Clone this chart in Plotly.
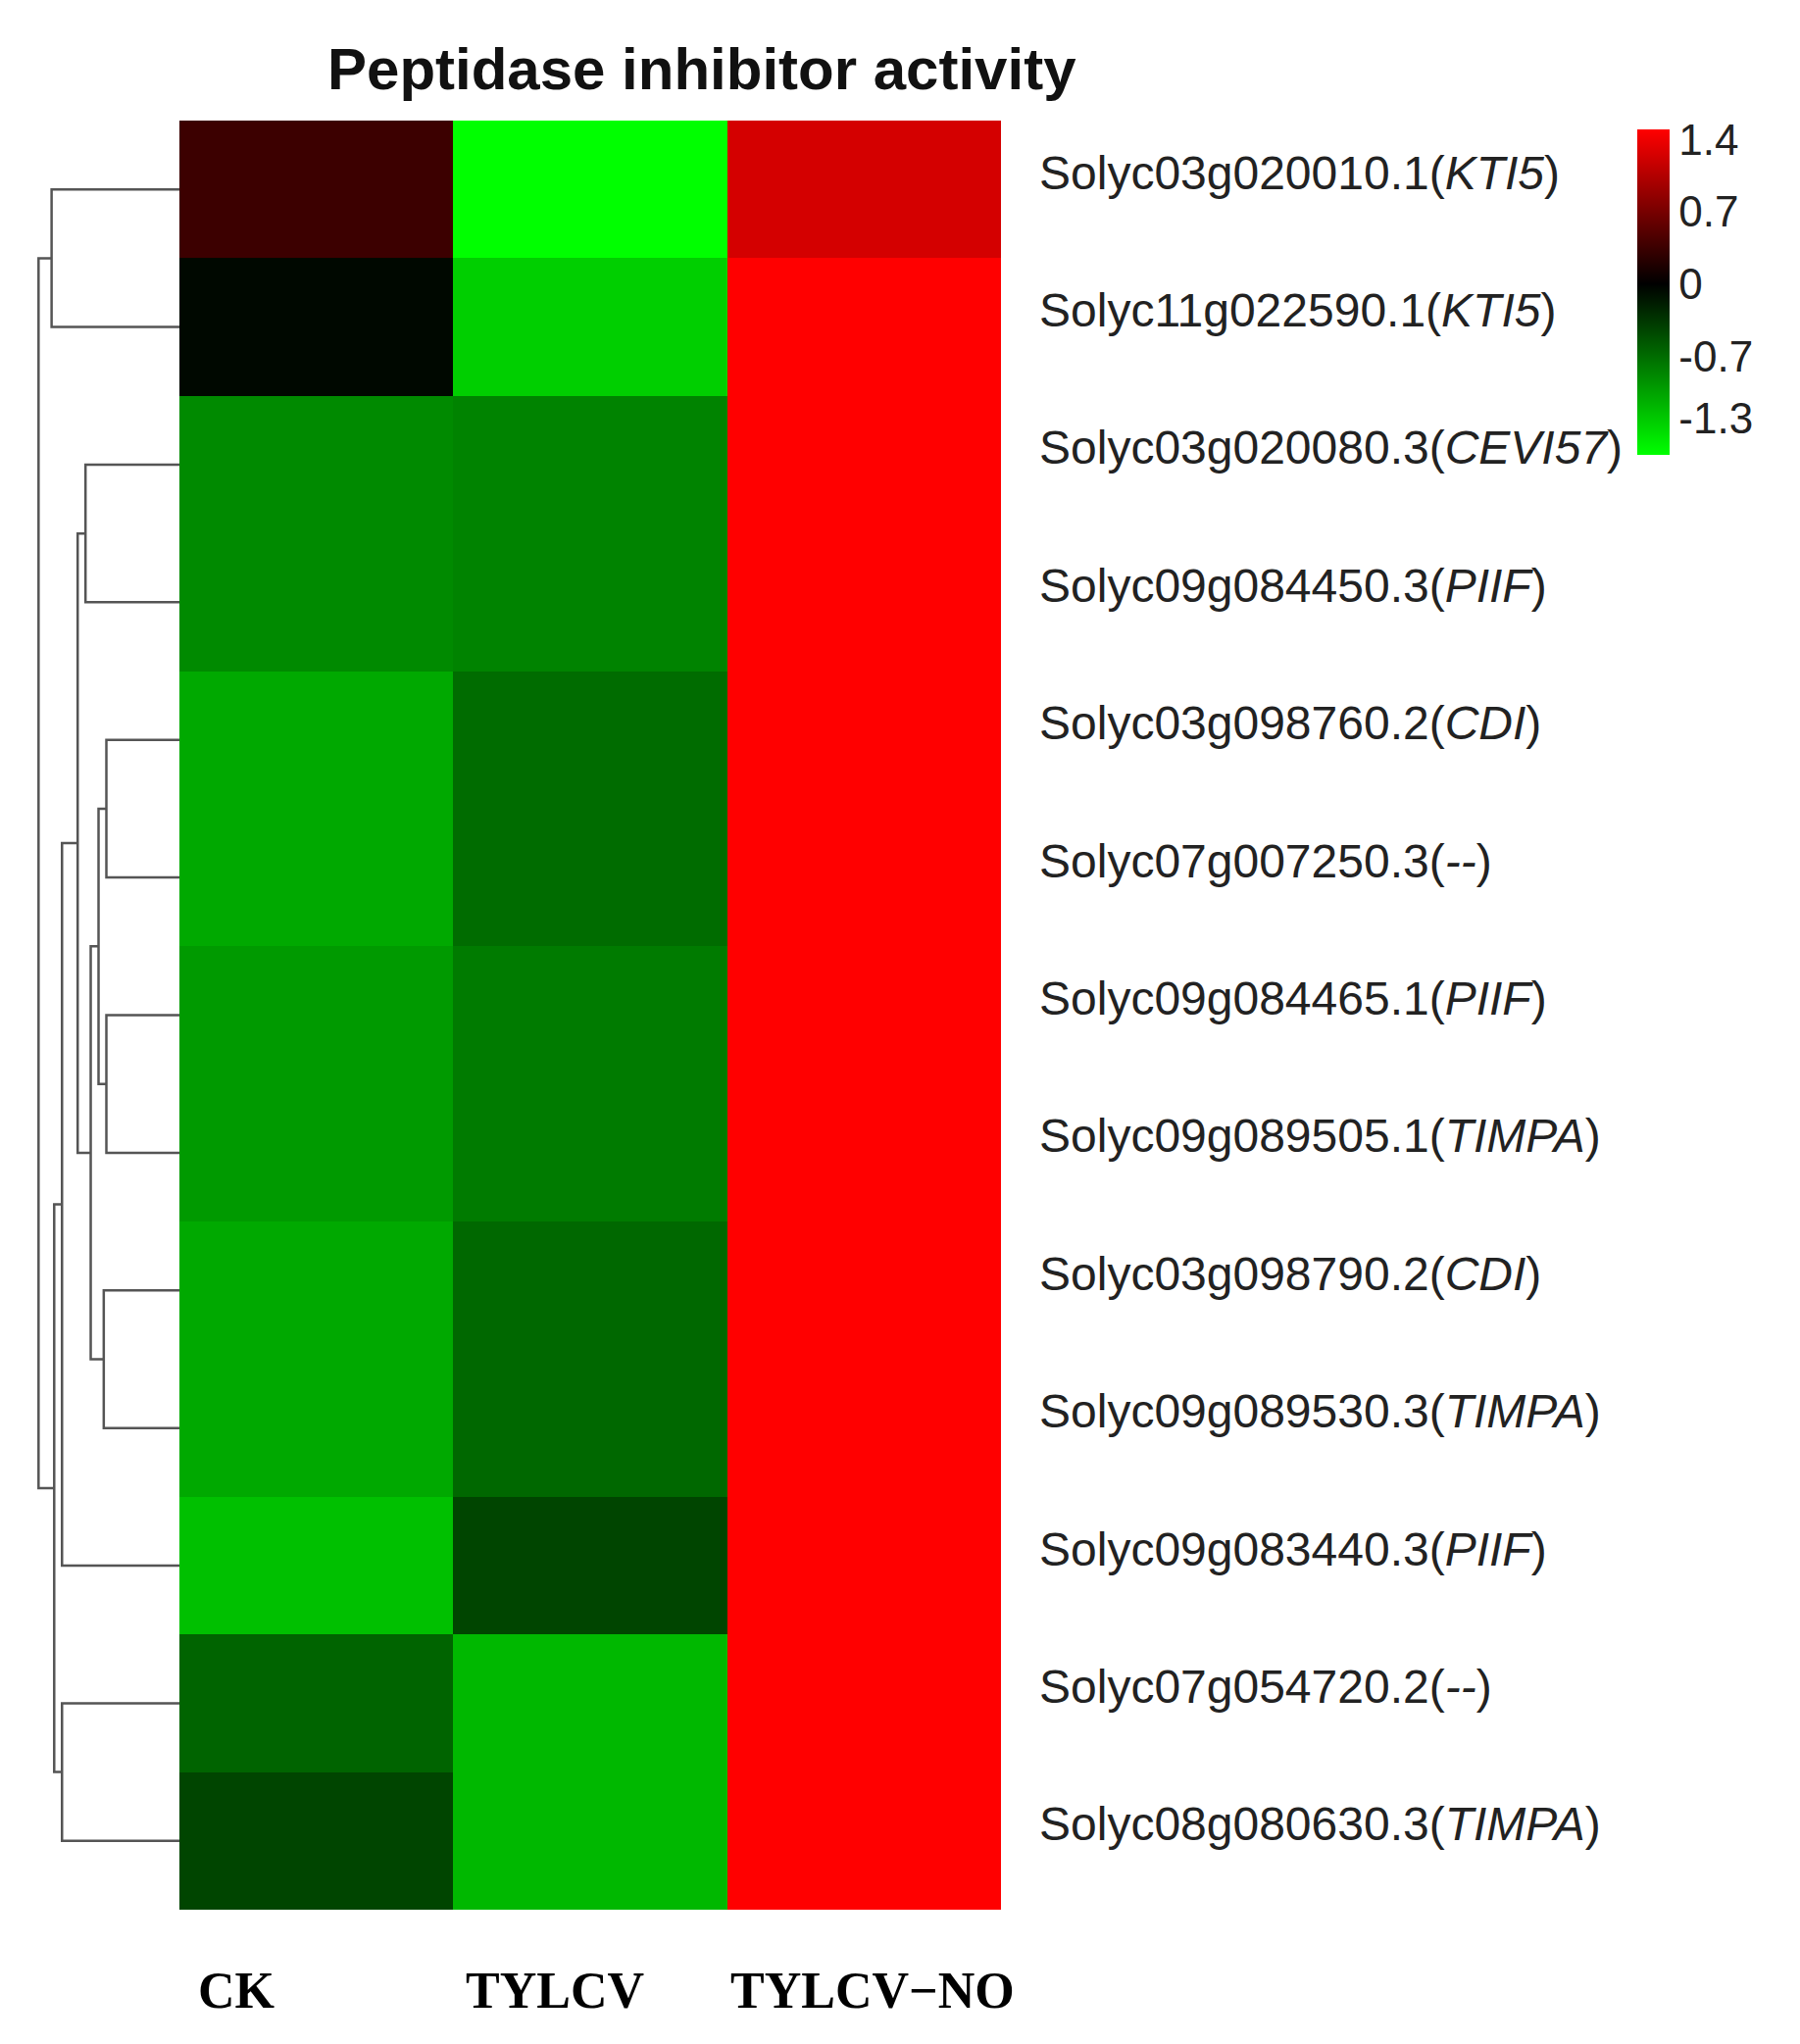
import plotly.graph_objects as go

genes = ["Solyc03g020010.1", "Solyc11g022590.1", "Solyc03g020080.3", "Solyc09g084450.3",
         "Solyc03g098760.2", "Solyc07g007250.3", "Solyc09g084465.1", "Solyc09g089505.1",
         "Solyc03g098790.2", "Solyc09g089530.3", "Solyc09g083440.3", "Solyc07g054720.2",
         "Solyc08g080630.3"]
symbols = ["KTI5", "KTI5", "CEVI57", "PIIF", "CDI", "--", "PIIF", "TIMPA", "CDI", "TIMPA", "PIIF", "--", "TIMPA"]
samples = ["CK", "TYLCV", "TYLCV\u2212NO"]
ck = [0.35, -0.05, -0.9, -0.9, -1.1, -1.1, -1.0, -1.0, -1.1, -1.1, -1.25, -0.65, -0.45]
tylcv = [-1.66, -1.35, -0.85, -0.85, -0.7, -0.7, -0.8, -0.8, -0.68, -0.68, -0.45, -1.2, -1.2]
tylcv_no = [1.25, 1.5, 1.5, 1.5, 1.5, 1.5, 1.5, 1.5, 1.5, 1.5, 1.5, 1.5, 1.5]
cbar_ticks = [1.4, 0.7, 0, -0.7, -1.3]
# dendrogram merges: (left, right, height); ids >= 13 refer to earlier merges
merges = [(0, 1, 98), (2, 3, 72), (4, 5, 56), (6, 7, 56), (15, 16, 62), (8, 9, 58),
          (17, 18, 68), (14, 19, 78), (20, 10, 90), (11, 12, 90), (21, 22, 96), (13, 23, 108)]

n = len(genes)
z = [[ck[i], tylcv[i], tylcv_no[i]] for i in range(n)]
zmin, zmax = -1.66, 1.5
mid = (0 - zmin) / (zmax - zmin)
cs = [[0, "rgb(0,255,0)"], [mid, "rgb(0,0,0)"], [1, "rgb(255,0,0)"]]

fig = go.Figure()
fig.add_trace(go.Heatmap(z=z, x=[0, 1, 2], y=list(range(n)), zmin=zmin, zmax=zmax, colorscale=cs,
                         xaxis="x", yaxis="y",
                         colorbar=dict(x=0.9, xanchor="left", y=1 - 114 / 2085, yanchor="top",
                                       len=352 / 2085, lenmode="fraction", thickness=33,
                                       outlinewidth=0, tickvals=cbar_ticks, ticks="",
                                       ticktext=[str(t) for t in cbar_ticks],
                                       tickfont=dict(family="Liberation Sans", size=44, color="#222"))))

pos = {i: (float(i), 0.0) for i in range(n)}
nid = n
for a, b, h in merges:
    ya, ha = pos[a]
    yb, hb = pos[b]
    fig.add_trace(go.Scatter(x=[ha, h, h, hb], y=[ya, ya, yb, yb], mode="lines",
                             line=dict(color="#555", width=2.5), xaxis="x2", yaxis="y",
                             showlegend=False, hoverinfo="skip"))
    pos[nid] = ((ya + yb) / 2, h)
    nid += 1

ann = []
for i in range(n):
    ann.append(dict(x=1050 / 1836, y=i, xref="paper", yref="y", xanchor="left", showarrow=False,
                    yshift=17, text=f"{genes[i]}(<i>{symbols[i]}</i>)",
                    font=dict(family="Liberation Sans", size=48, color="#222")))
for xs, s in zip([-0.29, 0.87, 2.03], samples):
    ann.append(dict(x=xs, y=1 - 2022 / 2085, xref="x", yref="paper", showarrow=False,
                    yanchor="middle", text=f"<b>{s}</b>",
                    font=dict(family="Liberation Serif", size=52, color="#000")))
ann.append(dict(x=708 / 1836, y=1 - 62 / 2085, xref="paper", yref="paper", showarrow=False,
                yanchor="middle", text="<b>Peptidase inhibitor activity</b>",
                font=dict(family="Liberation Sans", size=60, color="#111")))

fig.update_layout(
    width=1836, height=2085, margin=dict(l=0, r=0, t=0, b=0),
    plot_bgcolor="white", paper_bgcolor="white", annotations=ann,
    xaxis=dict(domain=[175 / 1836, 1013 / 1836], range=[-0.5, 2.5], showticklabels=False,
               showgrid=False, zeroline=False, ticks=""),
    xaxis2=dict(domain=[22 / 1836, 175 / 1836], range=[115, 0], showticklabels=False,
                showgrid=False, zeroline=False, anchor="y"),
    yaxis=dict(domain=[1 - 1940 / 2085, 1 - 115 / 2085], range=[n - 0.5, -0.5],
               showticklabels=False, showgrid=False, zeroline=False),
)
fig.write_html("out.html")
